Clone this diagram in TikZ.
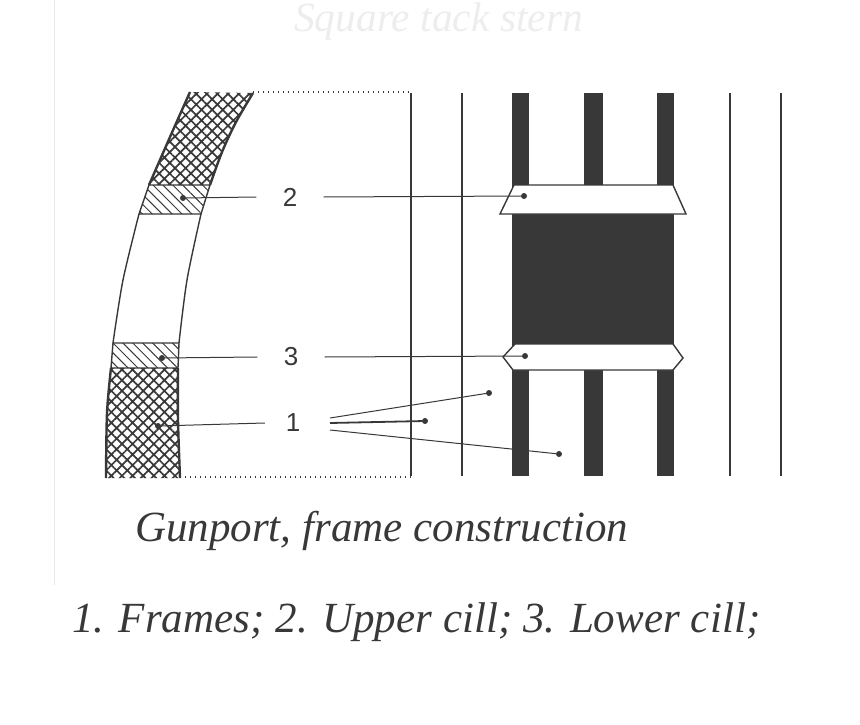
\documentclass[tikz,border=0pt]{standalone}
\usepackage{fontspec}
\setmainfont{Liberation Serif}
\newfontfamily\numfont{Liberation Sans}
\usetikzlibrary{positioning,calc,patterns.meta}
\definecolor{ink}{gray}{0.22}
\tikzset{
  thinline/.style={draw=ink,line width=1.1pt},
  hullline/.style={draw=ink,line width=1.4pt},
  heavyline/.style={draw=ink,line width=2.4pt},
  leader/.style={draw=ink,line width=1pt},
  dotline/.style={draw=ink,line width=1.2pt,dash pattern=on 1.4pt off 3.6pt},
  dotmark/.style={circle,fill=ink,inner sep=0pt,minimum size=6pt},
  numlabel/.style={font=\numfont\fontsize{26}{26}\selectfont,text=ink,inner sep=0pt,minimum width=67pt,minimum height=20pt},
  caption/.style={font=\itshape\fontsize{43}{43}\selectfont,text=ink,inner sep=0pt,anchor=base west},
  crossfill/.style={pattern={Hatch[angle=45,distance=7.5pt,line width=1.7pt]},pattern color=ink},
  cillfill/.style={pattern={Lines[angle=-45,distance=7pt,line width=1pt]},pattern color=ink}
}

\begin{document}
\begin{tikzpicture}[x=1pt,y=-1pt]
            \useasboundingbox (0,0) rectangle (860,725);
            % faint show-through of the page
            \draw[black!8,line width=1pt] (54,0) -- (54,585);
            \node[caption,text=black!7,font=\itshape\fontsize{41.5}{41.5}\selectfont] (ghost) at (294,32) {Square tack stern};
            % hatched hull pieces
            \fill[crossfill] plot[smooth] coordinates {(190,92) (170,137) (149,185)}
                -- (210,185) -- plot[smooth] coordinates {(210,185) (222,152) (236,122) (253,93)} -- cycle;
            \fill[crossfill] (111,368) -- plot[smooth] coordinates {(111,368) (107,413) (106,478)}
                -- (180,478) -- plot[smooth] coordinates {(180,478) (178,420) (178,368)} -- cycle;
            \path[cillfill] (149,185) -- (210,185) -- (201,214) -- (139,214) -- cycle;
            \path[cillfill] (113,343) -- (179,343) -- (178,368) -- (111,368) -- cycle;
            \draw[heavyline] plot[smooth] coordinates {(190,92) (170,137) (149,185)};
            \draw[heavyline] plot[smooth] coordinates {(253,93) (236,122) (222,152) (210,185)};
            \draw[heavyline] plot[smooth] coordinates {(111,368) (107,413) (106,478)};
            \draw[heavyline] plot[smooth] coordinates {(178,368) (178,420) (180,478)};
            \draw[hullline] (149,185) -- (210,185) -- (201,214) -- (139,214) -- cycle;
            \draw[hullline] (113,343) -- (179,343) -- (178,368) -- (111,368) -- cycle;
            \draw[hullline] plot[smooth] coordinates {(139,214) (123,280) (113,343)};
            \draw[hullline] plot[smooth] coordinates {(201,214) (187,280) (179,343)};
            % dotted outline and plain frames
            \draw[dotline] (253,92) -- (411,92);
            \draw[dotline] (185,477) -- (411,477);
            \foreach \xpos in {411,462,730,781}
                \draw[thinline] (\xpos,93) -- (\xpos,476);
            % dark frames
            \foreach \xleft/\xright in {512/529,584/603,657/674}
                \fill[ink] (\xleft,93) rectangle (\xright,476);
            \fill[ink] (512,214) rectangle (674,344);
            % cills
            \filldraw[fill=white,hullline] (514,185) -- (673,185) -- (686,214) -- (500,214) -- cycle;
            \filldraw[fill=white,hullline] (515,344) -- (673,344) -- (683,358) -- (673,370) -- (513,370) -- (503,357) -- cycle;
            % labels
            \node[numlabel] (lab2) at (290,197) {2};
            \node[numlabel] (lab3) at (291,357) {3};
            \node[numlabel,minimum width=56pt] (lab1) at (293,423) {1};
            \node[dotmark] (d2a) at (183,198) {};
            \node[dotmark] (d2b) at (524,196) {};
            \node[dotmark] (d3a) at (162,358) {};
            \node[dotmark] (d3b) at (525,356) {};
            \node[dotmark] (d1a) at (158,426) {};
            \node[dotmark] (d1b) at (489,393) {};
            \node[dotmark] (d1c) at (425,421) {};
            \node[dotmark] (d1d) at (559,454) {};
            \coordinate (f1) at (330,418);
            \coordinate (f2) at (330,423);
            \coordinate (f3) at (330,430);
            \draw[leader] (d2a) -- (lab2.west);
            \draw[leader] (lab2.east) -- (d2b);
            \draw[leader] (d3a) -- (lab3.west);
            \draw[leader] (lab3.east) -- (d3b);
            \draw[leader] (d1a) -- (lab1.west);
            \draw[leader] (f1) -- (d1b);
            \draw[leader,line width=1.8pt] (f2) -- (d1c);
            \draw[leader] (f3) -- (d1d);
            % captions
            \node[caption] (title) at (135,541) {Gunport, frame construction};
            \node[caption] (legend) at (72,632) {\addfontfeature{LetterSpace=0.1}1. Frames; 2. Upper cill; 3. Lower cill;};
        \end{tikzpicture}
\end{document}
